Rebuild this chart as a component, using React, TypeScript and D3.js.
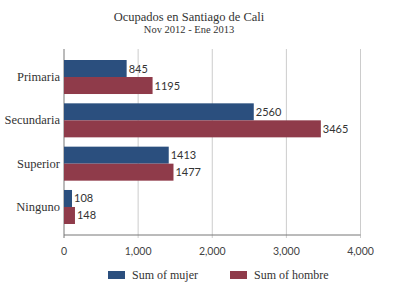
import React from "react";
import * as d3 from "d3";

const categories = ["Primaria", "Secundaria", "Superior", "Ninguno"];
const mujer = [845, 2560, 1413, 108];
const hombre = [1195, 3465, 1477, 148];
const seriesNames = ["Sum of mujer", "Sum of hombre"];
const xTicks = [0, 1000, 2000, 3000, 4000];

const W = 394, H = 289;
const left = 64, right = 360.5, top = 49, bottom = 235;
const colors = ["#2b4f7e", "#8f3b4a"];
const serif = "'Liberation Serif', 'Times New Roman', serif";
const sans = "Lato, sans-serif";

export default function App() {
  const x = d3.scaleLinear().domain([0, 4000]).range([left, right]);
  const y = d3.scaleBand<string>().domain(categories).range([top, bottom]).paddingInner(0.215).paddingOuter(0.254);
  const sub = d3.scaleBand<number>().domain([0, 1]).range([0, y.bandwidth()]);
  const series = [mujer, hombre];
  const fmt = d3.format(",");
  return (
    <svg width={W} height={H} style={{ position: "absolute", left: 0, top: 0, background: "#fff" }}>
      <text x={189} y={21} textAnchor="middle" style={{ fontFamily: serif }} fontSize={12.5} fill="#333">Ocupados en Santiago de Cali</text>
      <text x={189} y={33} textAnchor="middle" style={{ fontFamily: serif }} fontSize={10.5} fill="#333">Nov 2012 - Ene 2013</text>
      {xTicks.map(t => (
        <g key={t}>
          <line x1={x(t)} x2={x(t)} y1={top} y2={bottom + 3} stroke={t === 0 ? "#777" : "#ccc"} strokeWidth={1} />
          <text x={x(t)} y={255} textAnchor="middle" style={{ fontFamily: sans }} fontSize={10.5} fill="#444">{fmt(t)}</text>
        </g>
      ))}
      {categories.map((c, i) => (
        <g key={c}>
          <text x={60} y={(y(c) as number) + y.bandwidth() / 2 + 4} textAnchor="end" style={{ fontFamily: serif }} fontSize={12.5} fill="#333">{c}</text>
          {series.map((s, j) => {
            const by = (y(c) as number) + (sub(j) as number);
            return (
              <g key={j}>
                <rect x={x(0)} y={by} width={x(s[i]) - x(0)} height={sub.bandwidth()} fill={colors[j]} />
                <text x={x(s[i]) + 2} y={by + sub.bandwidth() / 2 + 4} style={{ fontFamily: sans }} fontSize={11} fill="#333">{s[i]}</text>
              </g>
            );
          })}
        </g>
      ))}
      <line x1={left} x2={right} y1={bottom} y2={bottom} stroke="#777" strokeWidth={1} />
      {seriesNames.map((n, j) => (
        <g key={n}>
          <rect x={j === 0 ? 108 : 230} y={271} width={17} height={8} fill={colors[j]} />
          <text x={j === 0 ? 132 : 254} y={278.5} style={{ fontFamily: serif }} fontSize={12} fill="#333">{n}</text>
        </g>
      ))}
    </svg>
  );
}
